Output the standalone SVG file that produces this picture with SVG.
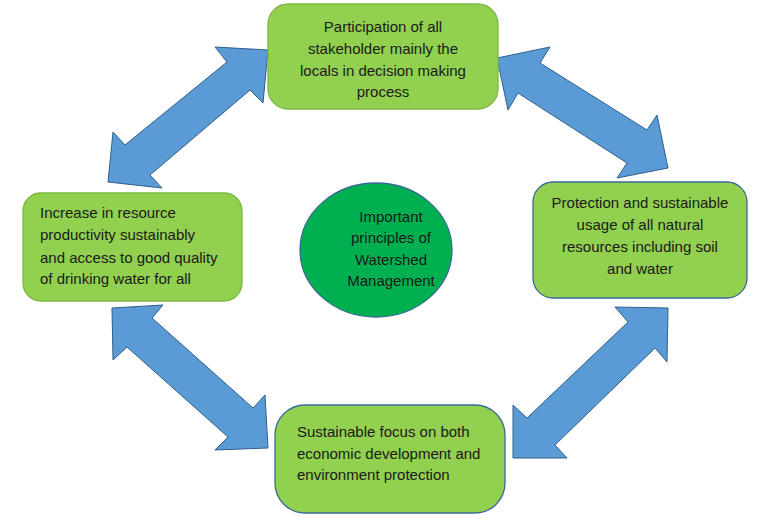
<svg xmlns="http://www.w3.org/2000/svg" width="764" height="520" viewBox="0 0 764 520">
<style>
.box{fill:#92D050;stroke-width:1.3}
.g{stroke:#7DB843}
.b{stroke:#3A6A96}
.arr{fill:#5B9BD5;stroke:#2F5F8C;stroke-width:1;stroke-linejoin:miter}
text{font-family:"Liberation Sans",Arial,sans-serif;font-size:15px;fill:#1A1A1A}
.c{text-anchor:middle}
</style>
<rect width="764" height="520" fill="#FFFFFF"/>
<g id="connectors">
<polygon class="arr" points="268,50 263,103 250,90 150,175 162,188 108,182 113,132 125,145 227,62 215,47"/>
<polygon class="arr" points="497,58 550,47 540,63 647,130 657,115 668,168 617,178 627,163 518,93 508,110"/>
<polygon class="arr" points="112,308 163,305 152,318 253,408 265,395 268,448 215,450 228,437 127,347 113,360"/>
<polygon class="arr" points="668,308 667,362 655,348 555,445 567,458 513,458 513,405 527,418 628,322 615,307"/>
</g>
<g id="node-top">
<rect class="box g" x="268" y="4" width="230" height="105" rx="20"/>
<text class="c" x="383" y="32">Participation of all</text>
<text class="c" x="383" y="54">stakeholder mainly the</text>
<text class="c" x="383" y="76">locals in decision making</text>
<text class="c" x="383" y="97">process</text>
</g>
<g id="node-right">
<rect class="box b" x="533" y="182" width="214" height="116" rx="20"/>
<text class="c" x="640" y="208">Protection and sustainable</text>
<text class="c" x="640" y="230">usage of all natural</text>
<text class="c" x="640" y="252">resources including soil</text>
<text class="c" x="640" y="274">and water</text>
</g>
<g id="node-left">
<rect class="box g" x="23" y="193" width="219" height="108" rx="18"/>
<text x="40" y="218">Increase in resource</text>
<text x="40" y="240">productivity sustainably</text>
<text x="40" y="263">and access to good quality</text>
<text x="40" y="284">of drinking water for all</text>
</g>
<g id="node-bottom">
<rect class="box b" x="275" y="405" width="230" height="108" rx="30"/>
<text x="297" y="437">Sustainable focus on both</text>
<text x="297" y="459">economic development and</text>
<text x="297" y="480">environment protection</text>
</g>
<g id="node-center">
<ellipse cx="376" cy="250" rx="76" ry="67" fill="#00B050" stroke="#3A6A96" stroke-width="1.3"/>
<text class="c" x="391" y="222">Important</text>
<text class="c" x="391" y="243">principles of</text>
<text class="c" x="391" y="265">Watershed</text>
<text class="c" x="391" y="286">Management</text>
</g>
</svg>
